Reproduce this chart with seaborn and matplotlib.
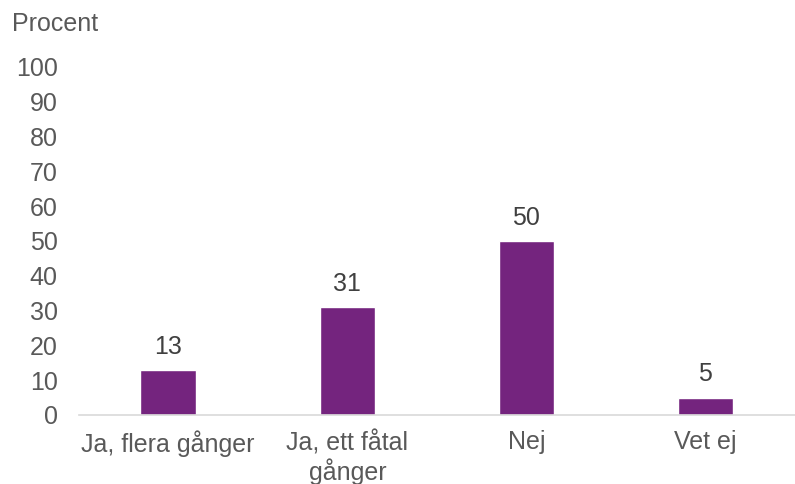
import matplotlib
matplotlib.use("Agg")
import matplotlib.pyplot as plt
import seaborn as sns
import pandas as pd

kategorier = ["Ja, flera gånger", "Ja, ett fåtal\ngånger", "Nej", "Vet ej"]
procent = [13, 31, 50, 5]
yticks = [0, 10, 20, 30, 40, 50, 60, 70, 80, 90, 100]

df = pd.DataFrame({"kategori": kategorier, "procent": procent})

sns.set_style("white")
plt.rcParams["font.family"] = ["Liberation Sans", "DejaVu Sans"]

fig = plt.figure(figsize=(7.95, 4.84), dpi=100)
ax = fig.add_axes([0.099, 0.1426, 0.901, 0.719])

sns.barplot(data=df, x="kategori", y="procent", color="#74247E",
            saturation=1, width=0.31, ax=ax)

for i, v in enumerate(procent):
    ax.text(i, v + 3.2, str(v), ha="center", va="bottom", fontsize=18,
            color="#404040", clip_on=False)

ax.set_xlim(-0.5, 3.5)
ax.set_ylim(0, 100)
ax.set_yticks(yticks)
ax.set_xlabel("")
ax.set_ylabel("")
ax.tick_params(axis="both", length=0, labelsize=18, labelcolor="#595959")
ax.tick_params(axis="y", pad=15)
ax.tick_params(axis="x", pad=11)
for lbl in ax.get_xticklabels():
    lbl.set_multialignment("center")
    lbl.set_linespacing(1.15)

for s in ["top", "right", "left"]:
    ax.spines[s].set_visible(False)
ax.spines["bottom"].set_color("#D9D9D9")
ax.spines["bottom"].set_linewidth(1.2)

fig.text(12 / 795, 1 - 24 / 484, "Procent", ha="left", va="center",
         fontsize=18, color="#595959")

fig.savefig("out.png", dpi=100)
